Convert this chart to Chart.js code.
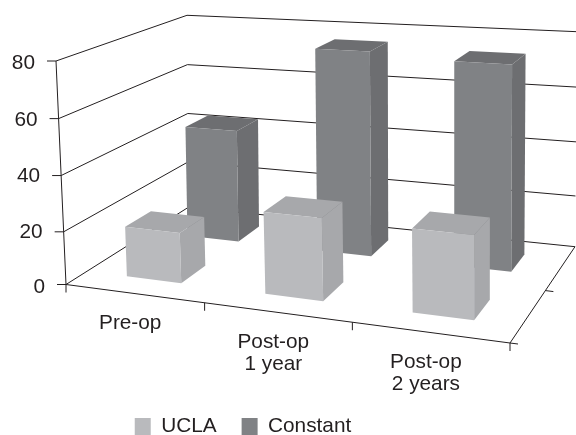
<!DOCTYPE html>
<html>
<head>
<meta charset="utf-8">
<title>UCLA and Constant scores</title>
<script src="https://cdn.jsdelivr.net/npm/chart.js@4"></script>
<style>
  html, body { margin: 0; padding: 0; background: #fff; }
  canvas { display: block; }
</style>
</head>
<body>
<canvas id="chart" width="576" height="435"></canvas>
<script>
// Chart data
const categories = [['Pre-op'], ['Post-op', '1 year'], ['Post-op', '2 years']];
const uclaValues = [19, 29.5, 29];
const constantValues = [43.5, 76, 74];
const yTicks = { min: 0, max: 80, step: 20 };

// Corners of the 3D box on screen
const floorFL = [66, 284.5], floorFR = [510, 343], floorBR = [575, 246.7], floorBL = [188.5, 207.2];
const topFL = [56, 61], topBLy = 15.3;

const lineColor = '#231f20';
const fontName = '"Liberation Sans", Arial, sans-serif';
const fontSize = 20.8;
const depthRows = [
    { front: '#b9babd', top: '#a7a8ab', side: '#a7a8ab' },
    { front: '#808285', top: '#6d6e71', side: '#6d6e71' }
];

// Build the perspective transform: floor square first, then the height column
function buildProjection() {
    const [x0, y0] = floorFL, [x1, y1] = floorFR, [x2, y2] = floorBR, [x3, y3] = floorBL;
    const dx1 = x1 - x2, dx2 = x3 - x2, sx = x0 - x1 + x2 - x3;
    const dy1 = y1 - y2, dy2 = y3 - y2, sy = y0 - y1 + y2 - y3;
    const det = dx1 * dy2 - dx2 * dy1;
    const g = (sx * dy2 - dx2 * sy) / det;
    const h = (dx1 * sy - sx * dy1) / det;
    const a = x1 - x0 + g * x1, b = x3 - x0 + h * x3;
    const d = y1 - y0 + g * y1, e = y3 - y0 + h * y3;

    // Height column comes from the two known left hand top corners
    const yBack = y0 + e, wBack = 1 + h;
    const i = (topBLy * wBack - yBack - topFL[1] + y0) / (topFL[1] - topBLy);
    const cx = topFL[0] * (i + 1) - x0;
    const cy = topFL[1] * (i + 1) - y0;

    return (u, depth, v) => {
        const w = g * u + h * depth + i * v + 1;
        return [(a * u + b * depth + cx * v + x0) / w, (d * u + e * depth + cy * v + y0) / w];
    };
}
const projectBox = buildProjection();

// The lowest band of the wall is a little shorter than the others in the picture
function wallHeight(v) {
    const low = 0.24;
    return v < 0.25 ? v / 0.25 * low : low + (v - 0.25) / 0.75 * (1 - low);
}

// Small corrections so the box follows the picture better than a pure perspective
function project(u, depth, v) {
    const p = projectBox(u + 0.04 * u * (1 - u), depth, wallHeight(v));
    return [p[0] + 4.5 * depth * v * (1 - u), p[1]];
}

function strokePath(ctx, points) {
    ctx.beginPath();
    points.forEach((p, i) => i ? ctx.lineTo(p[0], p[1]) : ctx.moveTo(p[0], p[1]));
    ctx.stroke();
}

function fillFace(ctx, points, color) {
    ctx.fillStyle = color;
    ctx.beginPath();
    points.forEach((p, i) => i ? ctx.lineTo(p[0], p[1]) : ctx.moveTo(p[0], p[1]));
    ctx.closePath();
    ctx.fill();
}

// Normalised position of a value inside the chart area
function normX(chart, px) {
    return (px - chart.chartArea.left) / chart.chartArea.width;
}
function normY(chart, px) {
    return (chart.chartArea.bottom - px) / chart.chartArea.height;
}

function drawFrame(chart, ctx) {
    const xScale = chart.scales.x, yScale = chart.scales.y;
    ctx.strokeStyle = lineColor;
    ctx.lineWidth = 1;

    // Wall grid lines and value ticks
    yScale.ticks.forEach(tick => {
        const v = normY(chart, yScale.getPixelForValue(tick.value));
        const start = project(0, 0, v);
        strokePath(ctx, [start, project(0, 1, v), project(1, 1, v)]);
        strokePath(ctx, [[start[0] - 9, start[1]], start]);
    });

    // Left axis and floor outline
    strokePath(ctx, [project(0, 0, 1), project(0, 0, 0)]);
    strokePath(ctx, [project(0, 0, 0), project(1, 0, 0), project(1, 1, 0)]);

    // Category ticks along the front edge
    const count = xScale.ticks.length;
    for (let i = 0; i <= count; i++) {
        const p = project(i / count, 0, 0);
        strokePath(ctx, [p, [p[0], p[1] + 8]]);
    }

    // Depth ticks along the right edge
    [0, 0.5].forEach(depth => {
        const p = project(1, depth, 0);
        strokePath(ctx, [p, [p[0] + 8, p[1] + 1]]);
    });
}

function drawBars(chart, ctx) {
    // Back row first so the front row covers it
    for (let row = depthRows.length - 1; row >= 0; row--) {
        const colors = depthRows[row];
        const d0 = (row + 0.3) / depthRows.length;
        const d1 = (row + 0.7) / depthRows.length;
        chart.getDatasetMeta(row).data.forEach(bar => {
            const u0 = normX(chart, bar.x - bar.width / 2);
            const u1 = normX(chart, bar.x + bar.width / 2);
            const v0 = normY(chart, bar.base);
            const v1 = normY(chart, bar.y);
            fillFace(ctx, [project(u1, d0, v0), project(u1, d1, v0), project(u1, d1, v1), project(u1, d0, v1)], colors.side);
            fillFace(ctx, [project(u0, d0, v1), project(u1, d0, v1), project(u1, d1, v1), project(u0, d1, v1)], colors.top);
            fillFace(ctx, [project(u0, d0, v0), project(u1, d0, v0), project(u1, d0, v1), project(u0, d0, v1)], colors.front);
        });
    }
}

function drawLabels(chart, ctx) {
    const xScale = chart.scales.x, yScale = chart.scales.y;
    ctx.fillStyle = lineColor;
    ctx.font = fontSize + 'px ' + fontName;
    ctx.textBaseline = 'middle';

    ctx.textAlign = 'right';
    yScale.ticks.forEach(tick => {
        const v = normY(chart, yScale.getPixelForValue(tick.value));
        ctx.fillText(tick.label, project(0, 0, v)[0] - 21, projectBox(0, 0, v)[1] + 2.5);
    });

    ctx.textAlign = 'center';
    categories.forEach((lines, i) => {
        const p = project(normX(chart, xScale.getPixelForValue(i)), 0, 0);
        lines.forEach((line, n) => ctx.fillText(line, p[0] - 4, p[1] + 30 + n * 21.5));
    });
}

// Replaces the flat bars with boxes placed through the chart's own scales
const boxPlugin = {
    id: 'box3d',
    beforeDatasetsDraw(chart) {
        drawFrame(chart, chart.ctx);
        drawBars(chart, chart.ctx);
        drawLabels(chart, chart.ctx);
    },
    beforeDatasetDraw() {
        return false;
    }
};

new Chart(document.getElementById('chart'), {
    type: 'bar',
    data: {
        labels: categories,
        datasets: [
            { label: 'UCLA', data: uclaValues, backgroundColor: depthRows[0].front, borderWidth: 0 },
            { label: 'Constant', data: constantValues, backgroundColor: depthRows[1].front, borderWidth: 0 }
        ]
    },
    options: {
        responsive: false,
        animation: false,
        layout: { padding: { right: 90, bottom: -12 } },
        datasets: { bar: { grouped: false, barPercentage: 0.4, categoryPercentage: 1 } },
        scales: {
            x: { display: false },
            y: { display: false, min: yTicks.min, max: yTicks.max, ticks: { stepSize: yTicks.step } }
        },
        plugins: {
            tooltip: { enabled: false },
            legend: {
                position: 'bottom',
                labels: {
                    boxWidth: 16,
                    boxHeight: 17,
                    padding: 25,
                    color: lineColor,
                    font: { family: fontName, size: fontSize }
                }
            }
        }
    },
    plugins: [boxPlugin]
});
</script>
</body>
</html>
